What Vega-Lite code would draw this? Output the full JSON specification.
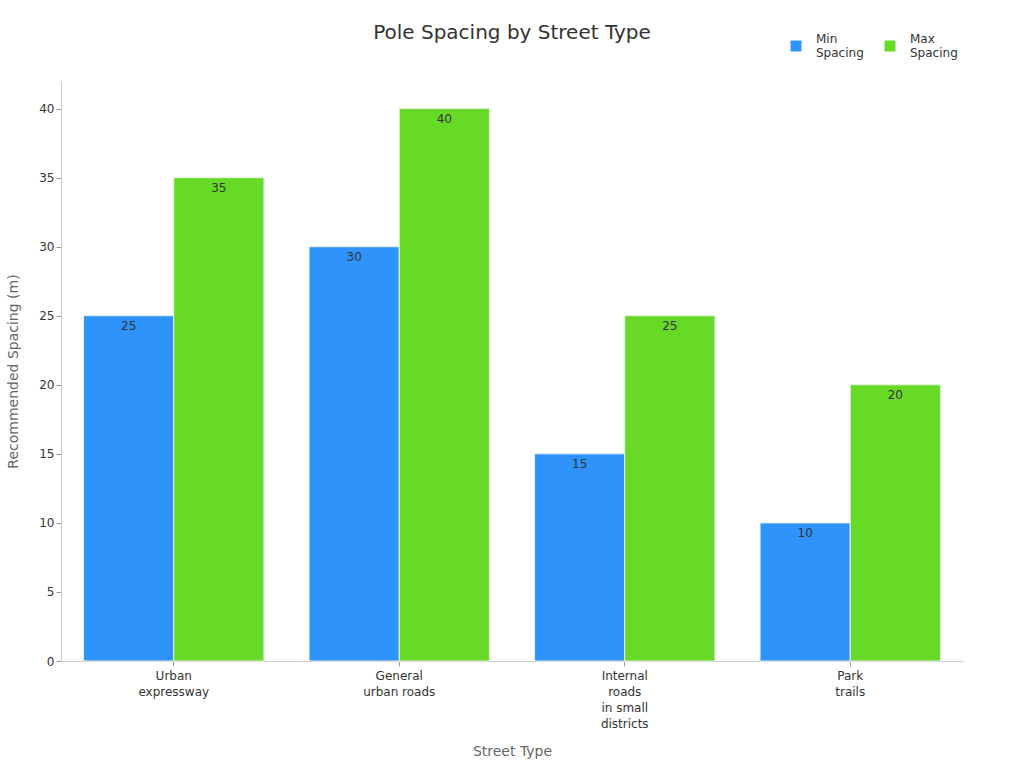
{
  "$schema": "https://vega.github.io/schema/vega-lite/v6.json",
  "width": 902,
  "height": 580,
  "autosize": "none",
  "padding": {"left": 61, "top": 81, "right": 61, "bottom": 107},
  "background": "white",
  "title": {
    "text": "Pole Spacing by Street Type",
    "anchor": "middle",
    "fontSize": 20,
    "fontWeight": "normal",
    "font": "DejaVu Sans",
    "color": "#333333",
    "offset": -3
  },
  "config": {
    "font": "DejaVu Sans",
    "view": {"stroke": null},
    "axis": {"grid": false, "domainColor": "#cccccc", "tickColor": "#999999", "labelColor": "#333333", "labelFontSize": 12, "titleColor": "#666666", "titleFontSize": 14, "titleFontWeight": "normal"}
  },
  "data": {
    "values": [
      {"street": "Urban\nexpressway", "series": "Min\nSpacing", "spacing": 25},
      {"street": "Urban\nexpressway", "series": "Max\nSpacing", "spacing": 35},
      {"street": "General\nurban roads", "series": "Min\nSpacing", "spacing": 30},
      {"street": "General\nurban roads", "series": "Max\nSpacing", "spacing": 40},
      {"street": "Internal\nroads\nin small\ndistricts", "series": "Min\nSpacing", "spacing": 15},
      {"street": "Internal\nroads\nin small\ndistricts", "series": "Max\nSpacing", "spacing": 25},
      {"street": "Park\ntrails", "series": "Min\nSpacing", "spacing": 10},
      {"street": "Park\ntrails", "series": "Max\nSpacing", "spacing": 20}
    ]
  },
  "encoding": {
    "x": {
      "field": "street",
      "type": "nominal",
      "sort": null,
      "scale": {"paddingInner": 0.2, "paddingOuter": 0.1},
      "axis": {"title": "Street Type", "labelAngle": 0, "labelExpr": "split(datum.label, '\\n')", "labelPadding": 4, "titlePadding": 15, "tickSize": 5, "labelLineHeight": 16}
    },
    "xOffset": {"field": "series", "type": "nominal", "sort": ["Min\nSpacing", "Max\nSpacing"]},
    "y": {
      "field": "spacing",
      "type": "quantitative",
      "scale": {"domain": [0, 42], "nice": false},
      "axis": {"title": "Recommended Spacing (m)", "values": [0, 5, 10, 15, 20, 25, 30, 35, 40], "tickSize": 5, "titlePadding": 18}
    }
  },
  "layer": [
    {
      "mark": {"type": "bar", "stroke": "#e8f0e8", "strokeWidth": 1},
      "encoding": {
        "color": {
          "field": "series",
          "type": "nominal",
          "sort": ["Min\nSpacing", "Max\nSpacing"],
          "scale": {"range": ["#2E93FA", "#66DA26"]},
          "legend": {
            "title": null,
            "orient": "none",
            "legendX": 729,
            "legendY": -41,
            "direction": "horizontal",
            "symbolType": "square",
            "symbolSize": 120,
            "symbolStrokeWidth": 0,
            "labelFontSize": 12,
            "labelColor": "#333333",
            "labelExpr": "split(datum.label, '\\n')",
            "labelOffset": 14,
            "columnPadding": 20,
            "labelLimit": 200,
            "labelBaseline": "bottom"
          }
        }
      }
    },
    {
      "mark": {"type": "text", "dy": 10, "baseline": "middle", "fontSize": 12, "color": "#333333"},
      "encoding": {"text": {"field": "spacing", "type": "quantitative"}}
    }
  ]
}
